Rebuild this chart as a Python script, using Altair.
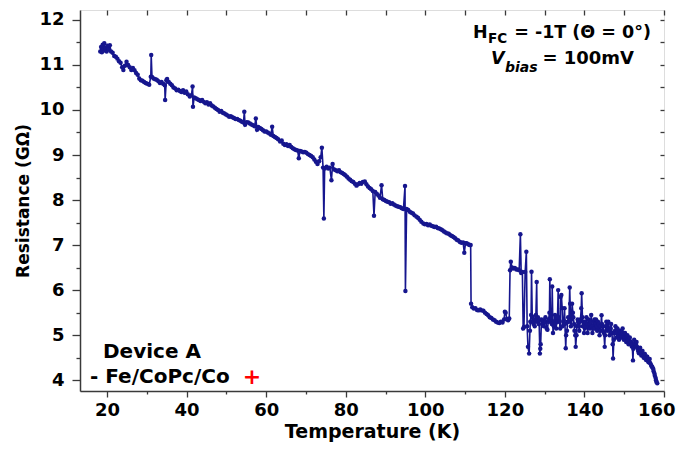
import altair as alt
import pandas as pd

# ---- data ----
# part 1: 18 K .. 126 K
temps_low = [
    18.3, 18.5, 18.7, 18.9, 19.1, 19.3, 19.5, 19.7, 19.9, 20.1, 20.4, 20.7, 21.0, 21.4, 21.8, 22.2, 22.6, 23.0, 23.4, 23.8,
    24.1, 24.5, 24.9, 25.3, 25.7, 26.1, 26.5, 26.9, 27.3, 27.7, 28.1, 28.5, 28.9, 29.3, 29.7, 30.1, 30.6, 31.0, 31.1, 31.3,
    31.7, 32.1, 32.5, 32.9, 33.3, 33.7, 34.1, 34.5, 34.6, 34.9, 35.1, 35.5, 35.9, 36.3, 36.7, 37.1, 37.5, 37.9, 38.3, 38.7,
    39.1, 39.5, 39.9, 40.3, 40.8, 41.2, 41.5, 41.6, 41.9, 42.3, 42.7, 43.1, 43.5, 43.9, 44.3, 44.7, 45.1, 45.5, 45.9, 46.3,
    46.7, 47.1, 47.5, 47.9, 48.3, 48.7, 49.1, 49.5, 49.9, 50.3, 50.7, 51.1, 51.5, 51.9, 52.3, 52.7, 53.1, 53.5, 53.9, 54.3,
    54.5, 54.7, 55.1, 55.5, 55.9, 56.3, 56.7, 57.1, 57.4, 57.7, 58.0, 58.4, 58.8, 59.2, 59.6, 60.0, 60.4, 60.8, 61.2, 61.5,
    61.8, 62.2, 62.6, 63.0, 63.5, 63.9, 64.3, 64.7, 65.1, 65.5, 65.9, 66.3, 66.7, 67.1, 67.5, 67.9, 68.2, 68.5, 68.9, 69.3,
    69.7, 70.1, 70.5, 70.9, 71.3, 71.7, 72.1, 72.5, 72.9, 73.3, 73.7, 74.0, 74.3, 74.5, 74.7, 75.2, 75.6, 76.0, 76.4, 76.7,
    77.1, 77.5, 77.9, 78.3, 78.7, 79.1, 79.5, 79.9, 80.3, 80.7, 81.1, 81.5, 81.9, 82.3, 82.7, 83.1, 83.5, 83.9, 84.3, 84.8,
    85.2, 85.6, 86.0, 86.4, 86.8, 87.1, 87.4, 87.8, 88.2, 88.6, 89.0, 89.3, 89.7, 90.1, 90.5, 90.9, 91.3, 91.7, 92.1, 92.5,
    92.9, 93.3, 93.7, 94.1, 94.5, 94.9, 95.0, 95.3, 95.7, 96.1, 96.5, 96.9, 97.3, 97.8, 98.2, 98.6, 99.0, 99.5, 99.9, 100.3,
    100.7, 101.1, 101.5, 101.9, 102.3, 102.7, 103.1, 103.5, 103.9, 104.3, 104.7, 105.1, 105.5, 105.9, 106.3, 106.7, 107.1, 107.5, 107.9, 108.3,
    108.7, 109.1, 109.5, 109.8, 110.1, 110.4, 110.8, 111.1, 111.4, 111.5, 111.8, 112.2, 112.6, 113.0, 113.4, 113.8, 114.2, 114.6, 115.0, 115.4,
    115.8, 116.2, 116.6, 117.0, 117.4, 117.8, 118.2, 118.6, 119.0, 119.4, 119.8, 120.0, 120.2, 120.5, 120.8, 121.1, 121.3, 121.5, 121.8, 122.1,
    122.5, 122.9, 123.3, 123.6, 123.9, 124.1, 124.4, 124.6, 124.8, 125.1, 125.4, 125.6, 125.8,
]
res_low = [
    11.30, 11.40, 11.28, 11.45, 11.35, 11.48, 11.32, 11.38, 11.30, 11.42, 11.35, 11.44, 11.30, 11.27, 11.20, 11.18, 11.14, 11.08, 11.05, 10.95,
    10.89, 10.98, 11.07, 11.00, 10.95, 10.89, 10.93, 10.88, 10.82, 10.78, 10.70, 10.66, 10.65, 10.62, 10.60, 10.58, 10.56, 10.74, 11.22, 10.73,
    10.70, 10.68, 10.67, 10.64, 10.60, 10.62, 10.58, 10.55, 10.22, 10.66, 10.69, 10.62, 10.58, 10.55, 10.50, 10.48, 10.44, 10.45, 10.42, 10.40,
    10.44, 10.38, 10.41, 10.35, 10.30, 10.33, 10.52, 10.07, 10.28, 10.26, 10.24, 10.22, 10.20, 10.22, 10.18, 10.15, 10.17, 10.12, 10.15, 10.10,
    10.08, 10.05, 10.02, 10.00, 9.96, 9.98, 9.94, 9.92, 9.90, 9.88, 9.85, 9.86, 9.84, 9.82, 9.80, 9.80, 9.78, 9.76, 9.74, 9.72,
    9.96, 9.67, 9.73, 9.72, 9.70, 9.68, 9.66, 9.64, 9.81, 9.56, 9.62, 9.60, 9.58, 9.55, 9.52, 9.52, 9.50, 9.48, 9.45, 9.63,
    9.42, 9.40, 9.38, 9.35, 9.30, 9.32, 9.25, 9.22, 9.24, 9.20, 9.22, 9.18, 9.15, 9.13, 9.11, 9.10, 8.93, 9.09, 9.08, 9.06,
    9.07, 9.05, 9.02, 9.00, 8.98, 8.95, 8.90, 8.85, 8.80, 8.86, 8.95, 9.16, 8.72, 7.59, 8.70, 8.74, 8.70, 8.72, 8.44, 8.80,
    8.68, 8.66, 8.64, 8.66, 8.62, 8.60, 8.58, 8.55, 8.52, 8.48, 8.45, 8.42, 8.40, 8.36, 8.32, 8.35, 8.38, 8.36, 8.40, 8.41,
    8.35, 8.30, 8.27, 8.24, 8.20, 7.65, 8.18, 8.14, 8.10, 8.05, 8.33, 8.02, 8.00, 7.98, 7.96, 7.95, 7.92, 7.93, 7.90, 7.88,
    7.86, 7.85, 7.84, 7.82, 7.80, 8.31, 5.98, 7.80, 7.78, 7.74, 7.72, 7.70, 7.66, 7.63, 7.60, 7.56, 7.52, 7.48, 7.46, 7.47,
    7.44, 7.46, 7.43, 7.42, 7.40, 7.41, 7.38, 7.37, 7.35, 7.33, 7.30, 7.28, 7.26, 7.25, 7.22, 7.20, 7.18, 7.15, 7.12, 7.10,
    7.07, 7.05, 7.06, 6.83, 7.04, 7.04, 7.02, 7.00, 7.00, 5.70, 5.62, 5.59, 5.60, 5.56, 5.55, 5.57, 5.55, 5.54, 5.50, 5.47,
    5.44, 5.40, 5.38, 5.35, 5.33, 5.30, 5.28, 5.27, 5.30, 5.28, 5.35, 5.52, 5.50, 5.36, 5.33, 5.37, 6.44, 6.63, 6.50, 6.48,
    6.49, 6.46, 6.46, 6.44, 7.24, 6.38, 6.40, 5.15, 5.18, 6.40, 6.85, 5.20, 4.74,
]
# part 2: 126 K .. 158 K (noisy region)
temps_high = [
    126.1, 126.3, 126.4, 126.6, 126.7, 126.9, 127.0, 127.2, 127.3, 127.5, 127.6, 127.8, 128.0, 128.1, 128.3, 128.5, 128.6, 128.8, 128.9, 129.0,
    129.2, 129.4, 129.6, 129.8, 130.0, 130.2, 130.3, 130.5, 130.7, 130.9, 131.0, 131.2, 131.3, 131.5, 131.6, 131.8, 131.9, 132.1, 132.3, 132.4,
    132.6, 132.7, 132.9, 133.0, 133.2, 133.4, 133.5, 133.7, 133.9, 134.0, 134.2, 134.4, 134.5, 134.7, 134.8, 135.0, 135.1, 135.3, 135.4, 135.6,
    135.8, 135.9, 136.1, 136.3, 136.4, 136.6, 136.8, 136.9, 137.1, 137.2, 137.4, 137.5, 137.7, 137.8, 138.0, 138.1, 138.3, 138.4, 138.6, 138.7,
    138.9, 139.0, 139.2, 139.3, 139.5, 139.6, 139.8, 139.9, 140.1, 140.2, 140.4, 140.5, 140.7, 140.8, 141.0, 141.1, 141.3, 141.4, 141.6, 141.7,
    141.9, 142.0, 142.2, 142.3, 142.5, 142.6, 142.8, 142.9, 143.1, 143.2, 143.4, 143.5, 143.7, 143.8, 144.0, 144.1, 144.3, 144.4, 144.6, 144.7,
    144.9, 145.1, 145.2, 145.4, 145.5, 145.7, 145.8, 146.0, 146.1, 146.3, 146.4, 146.6, 146.7, 146.9, 147.1, 147.2, 147.4, 147.5, 147.7, 147.8,
    148.0, 148.1, 148.3, 148.4, 148.6, 148.7, 148.9, 149.0, 149.2, 149.3, 149.5, 149.6, 149.8, 149.9, 150.1, 150.2, 150.4, 150.5, 150.7, 150.8,
    151.0, 151.1, 151.3, 151.4, 151.6, 151.7, 151.9, 152.0, 152.2, 152.3, 152.5, 152.6, 152.8, 152.9, 153.1, 153.2, 153.4, 153.5, 153.7, 153.8,
    154.0, 154.1, 154.3, 154.4, 154.6, 154.7, 154.9, 155.0, 155.2, 155.3, 155.5, 155.6, 155.8, 155.9, 156.1, 156.2, 156.4, 156.5, 156.7, 156.8,
    157.0, 157.1, 157.3, 157.4, 157.6, 157.7, 157.9, 158.0, 158.1, 158.3,
]
res_high = [
    4.59, 5.10, 5.30, 5.45, 6.41, 5.30, 5.41, 5.25, 5.30, 5.20, 5.35, 5.45, 6.18, 5.30, 5.40, 5.25, 5.33, 4.59, 4.70, 4.80,
    5.35, 5.25, 5.33, 5.20, 5.28, 5.40, 5.30, 5.15, 5.12, 5.30, 5.35, 5.50, 6.24, 5.30, 5.40, 5.25, 6.08, 5.05, 5.20, 5.30,
    5.45, 5.25, 5.15, 5.40, 5.30, 6.00, 5.40, 5.30, 5.15, 5.85, 5.89, 5.60, 5.20, 5.30, 5.33, 5.60, 5.25, 4.71, 5.00, 5.10,
    5.30, 5.40, 5.30, 6.06, 5.70, 5.20, 5.35, 5.70, 5.50, 5.40, 5.25, 5.10, 5.00, 4.74, 5.00, 5.20, 5.35, 5.30, 5.20, 5.10,
    5.30, 5.35, 5.60, 5.93, 5.40, 5.20, 5.30, 5.05, 5.15, 5.30, 5.20, 5.40, 5.25, 5.05, 5.20, 5.35, 5.25, 5.15, 5.30, 5.45,
    5.20, 5.05, 5.15, 5.30, 5.35, 5.15, 5.25, 5.35, 5.20, 5.10, 5.30, 5.25, 5.15, 5.00, 5.10, 5.20, 5.44, 5.25, 5.10, 5.20,
    5.05, 4.74, 5.00, 5.20, 5.30, 5.10, 5.20, 5.30, 5.15, 5.00, 5.10, 5.15, 5.25, 5.05, 4.80, 4.48, 4.90, 5.05, 5.10, 5.20,
    5.05, 4.95, 5.15, 5.10, 5.00, 4.90, 5.10, 5.05, 5.00, 4.95, 5.05, 5.15, 5.00, 4.90, 4.95, 5.05, 4.95, 4.85, 4.95, 5.00,
    4.90, 4.80, 4.90, 4.95, 4.85, 4.85, 4.75, 4.80, 4.44, 4.70, 4.90, 4.80, 4.75, 4.80, 4.85, 4.75, 4.70, 4.65, 4.60, 4.68,
    4.72, 4.60, 4.55, 4.62, 4.65, 4.55, 4.50, 4.55, 4.58, 4.50, 4.45, 4.48, 4.52, 4.45, 4.40, 4.42, 4.47, 4.38, 4.35, 4.32,
    4.30, 4.28, 4.25, 4.20, 4.15, 4.10, 4.05, 4.00, 3.96, 3.93,
]

x_ticks = [20, 30, 40, 50, 60, 70, 80, 90, 100, 110, 120, 130, 140, 150, 160]
y_ticks = [4, 4.5, 5, 5.5, 6, 6.5, 7, 7.5, 8, 8.5, 9, 9.5, 10, 10.5, 11, 11.5, 12]
x_title = "Temperature (K)"
y_title = "Resistance (GΩ)"

df = pd.DataFrame({"T": temps_low + temps_high, "R": res_low + res_high})

COLOR = "#16168e"
FONT = "DejaVu Sans"
AX = "#3a3a3a"

xscale = alt.Scale(domain=[13.2, 160], nice=False, zero=False)
yscale = alt.Scale(domain=[3.76, 12.22], nice=False, zero=False)

common_axis = dict(
    grid=False, labelFont=FONT, labelFontWeight="bold", labelFontSize=18, labelColor="black",
    titleFont=FONT, titleFontWeight="bold", titleColor="black",
    domainColor=AX, domainWidth=1.5, tickColor=AX, tickWidth=1.3,
)

x_axis = alt.Axis(
    values=x_ticks, title=x_title, titleFontSize=19, titlePadding=3,
    labelExpr="datum.value % 20 === 0 ? format(datum.value, 'd') : ''",
    tickSize={"condition": {"test": "datum.value % 20 === 0", "value": 6}, "value": 3},
    labelAlign={"condition": {"test": "datum.value === 160", "value": "right"}, "value": "center"},
    labelOffset={"condition": {"test": "datum.value === 160", "value": 11}, "value": 0},
    labelPadding=4, labelFlush=False, **common_axis,
)
y_axis = alt.Axis(
    values=y_ticks, title=y_title, titleFontSize=17, titlePadding=6,
    labelExpr="datum.value % 1 === 0 ? format(datum.value, 'd') : ''",
    tickSize={"condition": {"test": "datum.value % 1 === 0", "value": 8}, "value": 4},
    labelPadding=8, labelFlush=False, **common_axis,
)

base = alt.Chart(df)
line = base.mark_line(color=COLOR, strokeWidth=1.6).encode(
    x=alt.X("T:Q", scale=xscale, axis=x_axis),
    y=alt.Y("R:Q", scale=yscale, axis=y_axis),
)
pts = base.mark_circle(color=COLOR, size=20, opacity=1).encode(
    x=alt.X("T:Q", scale=xscale, axis=None),
    y=alt.Y("R:Q", scale=yscale, axis=None),
)

mirror = base.mark_point(opacity=0).encode(
    x=alt.X("T:Q", scale=xscale, axis=alt.Axis(
        orient="top", values=x_ticks, labels=False, labelExpr="''", title=None, domain=False,
        grid=False, offset=-5, tickSize=5, tickColor=AX, tickWidth=1.3)),
    y=alt.Y("R:Q", scale=yscale, axis=alt.Axis(
        orient="right", values=y_ticks, labels=False, labelExpr="''", title=None, domain=False,
        grid=False, offset=-4, tickSize=4, tickColor=AX, tickWidth=1.3)),
)

# ---- annotation texts (pixel positions relative to plot area) ----
def txt(s, x, y, size, color="black", style="normal", align="left"):
    return alt.Chart(pd.DataFrame({"s": [s]})).mark_text(
        font=FONT, fontWeight="bold", fontSize=size, fontStyle=style,
        color=color, align=align, baseline="alphabetic",
    ).encode(text="s:N", x=alt.value(x), y=alt.value(y))

OX, OY = 80, 10
ann = [
    txt("H", 473 - OX, 38 - OY, 17.5),
    txt("FC", 488 - OX, 43 - OY, 13.5),
    txt("= -1T (Θ = 0°)", 651 - OX, 38 - OY, 17.5, align="right"),
    txt("V", 491 - OX, 64 - OY, 17.5, style="italic"),
    txt("bias", 505 - OX, 72 - OY, 14, style="italic"),
    txt("= 100mV", 634 - OX, 64 - OY, 18, align="right"),
    txt("Device A", 103 - OX, 358 - OY, 20),
    txt("- Fe/CoPc/Co", 90 - OX, 383 - OY, 20),
    txt("+", 252 - OX, 384 - OY, 22, color="#ff0000", align="center"),
]

chart = alt.layer(line, pts, mirror, *ann).resolve_axis(
    x="independent", y="independent"
).properties(
    width=584, height=381,
    padding={"left": 72, "top": 2, "right": 12, "bottom": 51},
    autosize="none",
).configure_view(stroke=AX, strokeWidth=1.5).configure(background="white")

chart.save("out.html", embed_options={"renderer": "svg", "actions": False})
